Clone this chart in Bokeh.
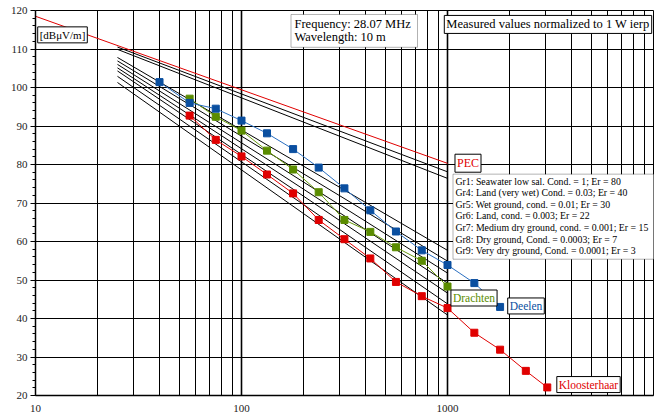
from bokeh.plotting import figure
from bokeh.models import FixedTicker, Label, BoxAnnotation, Range1d
from bokeh.embed import file_html
from bokeh.resources import INLINE

SERIF = "Liberation Serif"

# ---- axis ticks -------------------------------------------------------
x_ticks = [10, 100, 1000, 10000]
x_tick_labels = ["10", "100", "1000", ""]
x_minor = [m * d for d in (10, 100, 1000) for m in range(2, 10)]
y_ticks = list(range(20, 121, 10))
y_minor = [v for v in range(20, 121, 2) if v % 10]

# ---- perfect conductor reference --------------------------------------
pec_dist = [10, 1000]
pec_dbuv = [118.5, 80.3]

# ---- computed ground-wave curves (start at 25 m, end at 1000 m) --------
ground_dist = [25, 1000]
ground_start = [110.5, 109.9, 107.8, 106.9, 106.0, 105.1, 104.3, 102.9, 101.3]
ground_end = [78.1, 76.4, 57.7, 54.9, 51.8, 49.2, 46.6, 43.8, 40.9]

legend_lines = [
    "Gr1: Seawater low sal. Cond. = 1; Er = 80",
    "Gr4: Land (very wet) Cond. = 0.03; Er = 40",
    "Gr5: Wet ground, cond. = 0.01; Er = 30",
    "Gr6: Land, cond. = 0.003; Er = 22",
    "Gr7: Medium dry ground, cond. = 0.001; Er = 15",
    "Gr8: Dry ground, Cond. = 0.0003; Er = 7",
    "Gr9: Very dry ground, Cond. = 0.0001; Er = 3",
]

# ---- measured field strength --------------------------------------------
deelen_dist = [40, 56, 75, 100, 133, 178, 237, 316, 422, 562, 750, 1000, 1350, 1800]
deelen_dbuv = [101.4, 96.0, 94.5, 91.4, 88.1, 84.0, 79.2, 73.8, 68.1, 62.6, 57.7, 53.9, 49.2, 43.0]

drachten_dist = [56, 75, 100, 133, 178, 237, 316, 422, 562, 750, 1000]
drachten_dbuv = [97.1, 92.4, 88.8, 83.6, 78.7, 72.8, 65.6, 62.5, 58.5, 55.0, 48.3]

klooster_dist = [56, 75, 100, 133, 178, 237, 316, 422, 562, 750, 1000, 1350, 1800, 2400, 3050]
klooster_dbuv = [92.7, 86.4, 82.1, 77.4, 72.5, 65.6, 60.6, 55.6, 49.5, 45.8, 42.7, 36.3, 31.9, 26.4, 22.1]

RED = "#e00000"
BLUE = "#0a4fa0"
BLUE_LINE = "#2a6fc0"
GREEN = "#5a8c00"

# frame geometry (pixels) used to place the annotation boxes
F_LEFT, F_RIGHT, F_TOP, F_BOTTOM = 35, 653, 10, 397
W, H = 670, 414


def px_x(px):
    return 10 ** (1 + 3 * (px - F_LEFT) / (F_RIGHT - F_LEFT))


def px_y(py):
    return 120 - 100 * (py - F_TOP) / (F_BOTTOM - F_TOP)


p = figure(
    width=W, height=H, x_axis_type="log",
    x_range=Range1d(10, 10000), y_range=Range1d(20, 120),
    output_backend="svg", toolbar_location=None,
    min_border_left=F_LEFT, min_border_right=W - F_RIGHT,
    min_border_top=F_TOP, min_border_bottom=H - F_BOTTOM,
    background_fill_color="white", border_fill_color="white",
)
p.outline_line_color = "black"
p.outline_line_width = 1

# grid
p.xaxis.ticker = FixedTicker(ticks=x_ticks, minor_ticks=x_minor)
p.yaxis.ticker = FixedTicker(ticks=y_ticks, minor_ticks=y_minor)
p.xgrid.grid_line_color = "black"
p.xgrid.grid_line_width = 1.6
p.xgrid.minor_grid_line_color = "black"
p.xgrid.minor_grid_line_width = 1
p.ygrid.grid_line_color = "black"
p.ygrid.grid_line_width = 1
p.ygrid.minor_grid_line_color = None

# axes
for ax in (p.xaxis, p.yaxis):
    ax.axis_line_color = "black"
    ax.axis_line_width = 1.5
    ax.major_label_text_font = SERIF
    ax.major_label_text_font_size = "11px"
    ax.major_label_text_color = "#222222"
p.xaxis.major_tick_line_color = None
p.xaxis.minor_tick_line_color = None
p.xaxis.major_label_standoff = 3
p.xaxis.major_label_overrides = dict(zip(x_ticks, x_tick_labels))
p.yaxis.major_tick_in = 0
p.yaxis.major_tick_out = 5
p.yaxis.minor_tick_in = 0
p.yaxis.minor_tick_out = 3
p.yaxis.major_tick_line_color = "black"
p.yaxis.minor_tick_line_color = "black"
p.yaxis.major_label_standoff = 3

# PEC line
p.line(pec_dist, pec_dbuv, line_color=RED, line_width=1)

# ground curves
for a, b in zip(ground_start, ground_end):
    p.line(ground_dist, [a, b], line_color="black", line_width=1)

# measurements
for dist, vals, lc, mc in (
    (drachten_dist, drachten_dbuv, "#6a9a10", GREEN),
    (deelen_dist, deelen_dbuv, BLUE_LINE, BLUE),
    (klooster_dist, klooster_dbuv, RED, RED),
):
    p.line(dist, vals, line_color=lc, line_width=1)
    p.scatter(dist, vals, marker="square", size=7, fill_color=mc, line_color=mc)


def boxed(text, cx, cy, color="black", size="11px"):
    p.add_layout(Label(
        x=px_x(cx), y=px_y(cy), text=text, text_align="center", text_baseline="middle",
        text_font=SERIF, text_font_size=size, text_color=color,
        border_line_color="black", border_line_width=1,
        background_fill_color="white", padding=2,
    ))


def plain(text, px, py, size="11px", align="left", color="black"):
    p.add_layout(Label(
        x=px_x(px), y=px_y(py), text=text, text_align=align, text_baseline="middle",
        text_font=SERIF, text_font_size=size, text_color=color,
    ))


# series labels
boxed("PEC", 467.5, 163.5, RED, "12px")
boxed("Drachten", 473.5, 299, GREEN, "11.5px")
boxed("Deelen", 525.5, 307, BLUE, "11.5px")
boxed("Kloosterhaar", 588, 386, RED, "11.5px")

# unit label and note
boxed("[dB\u03bcV/m]", 62, 34.5, "black", "11px")
boxed("Measured values normalized to 1 W ierp", 547.5, 24, "black", "12.5px")

# frequency box
p.add_layout(BoxAnnotation(
    left=px_x(290.5), right=px_x(417), top=px_y(14), bottom=px_y(47),
    fill_color="white", fill_alpha=1, line_color="black", line_width=1,
))
plain("Frequency: 28.07 MHz", 294, 23.5, "12.5px")
plain("Wavelength: 10 m", 294, 37, "12.5px")

# ground legend box
p.add_layout(BoxAnnotation(
    left=px_x(452.5), right=px_x(653.5), top=px_y(174.5), bottom=px_y(260),
    fill_color="white", fill_alpha=1, line_color="black", line_width=1,
))
for i, t in enumerate(legend_lines):
    plain(t, 455, 181.7 + 11.6 * i, "9.8px")

# distance axis extras
plain("10000", 653, 406, "11px", align="right", color="#222222")
plain("Distance [m]", 587, 406, "10.5px", align="center", color="#222222")

open("out.html", "w").write(file_html(p, INLINE))
